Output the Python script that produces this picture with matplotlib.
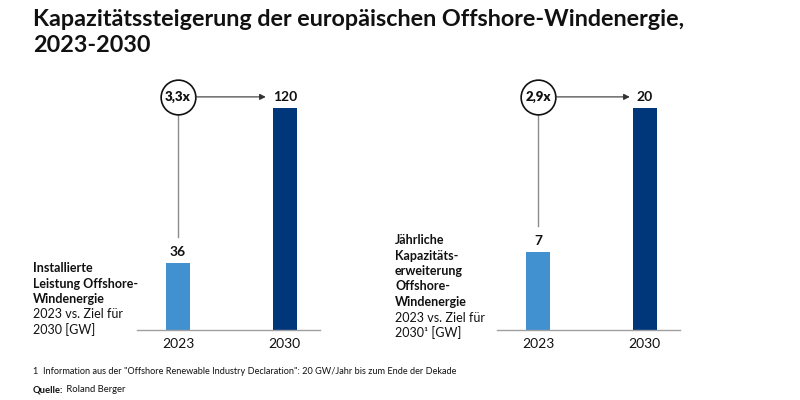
# -*- coding: utf8
'''
Kapazitätssteigerung der europäischen Offshore-Windenergie, 2023-2030:
two small bar panels with growth factor bubbles.
'''
import matplotlib
matplotlib.use('Agg')
from matplotlib import pyplot as plt
from matplotlib import transforms

plt.rcParams['font.family'] = ['Lato', 'DejaVu Sans']

years = ['2023', '2030']
installed_gw = [36, 120]
annual_gw = [7, 20]
factors = ['3,3x', '2,9x']

left_bold = ['Installierte', 'Leistung Offshore-', 'Windenergie']
left_reg = ['2023 vs. Ziel für', '2030 [GW]']
right_bold = ['Jährliche', 'Kapazitäts-', 'erweiterung', 'Offshore-', 'Windenergie']
right_reg = ['2023 vs. Ziel für', '2030¹ [GW]']

LIGHT = '#4191d1'
DARK = '#00367a'
TXT = '#111111'
W, H = 800, 400


def px_axes(fig, x0, x1, ytop, ybot):
    return fig.add_axes([x0 / W, 1 - ybot / H, (x1 - x0) / W, (ybot - ytop) / H])


def panel(ax, values, factor):
    ax.bar([0, 1], values, width=0.225, color=[LIGHT, DARK])
    ax.set_xlim(-0.385, 1.33)
    ax.set_ylim(0, values[1])
    for s in ['top', 'right', 'left']:
        ax.spines[s].set_visible(False)
    ax.spines['bottom'].set_color('#a0a0a0')
    ax.spines['bottom'].set_linewidth(1.0)
    ax.set_yticks([])
    ax.set_xticks([0, 1])
    ax.set_xticklabels(years, fontsize=10, color=TXT)
    ax.tick_params(axis='x', length=0, pad=6)

    tr = transforms.blended_transform_factory(ax.transData, ax.transAxes)
    yc = 1.05
    low_frac = values[0] / values[1]
    # value on small bar
    ax.annotate(str(values[0]), (0, values[0]), xytext=(0, 4),
                textcoords='offset points', ha='center', va='bottom',
                fontsize=10, fontweight='bold', color=TXT)
    # vertical connector
    ax.plot([0, 0], [yc - 0.08, low_frac + 0.117], transform=tr,
            color='#8c8c8c', lw=1.0, clip_on=False)
    # arrow to big bar label
    ax.annotate(str(values[1]), xy=(0.16, yc), xycoords=tr,
                xytext=(1, yc), textcoords=tr, ha='center', va='center',
                fontsize=10, fontweight='bold', color=TXT,
                arrowprops=dict(arrowstyle='<|-,head_length=0.35,head_width=0.18',
                                color='#333333', lw=0.8, shrinkA=3, shrinkB=0))
    # growth bubble
    ax.plot([0], [yc], transform=tr, marker='o', markersize=25,
            markerfacecolor='white', markeredgecolor='#111111',
            markeredgewidth=1.2, clip_on=False)
    ax.text(0, yc, factor, transform=tr, ha='center', va='center',
            fontsize=9.5, fontweight='heavy', color=TXT)


def side_text(fig, x, y0, bold, regular):
    step = 15.5
    y = y0
    for line in bold:
        fig.text(x / W, 1 - y / H, line, ha='left', va='center',
                 fontsize=9, fontweight='bold', color=TXT)
        y += step
    for line in regular:
        fig.text(x / W, 1 - y / H, line, ha='left', va='center',
                 fontsize=9, color=TXT)
        y += step


def main():
    fig = plt.figure(figsize=(8, 4), dpi=100)
    fig.patch.set_facecolor('white')

    fig.text(33 / W, 1 - 19 / H, 'Kapazitätssteigerung der europäischen Offshore-Windenergie,',
             ha='left', va='center', fontsize=16.8, fontweight='bold', color=TXT)
    fig.text(33 / W, 1 - 45 / H, '2023-2030',
             ha='left', va='center', fontsize=16.8, fontweight='bold', color=TXT)

    ax1 = px_axes(fig, 137, 320, 108, 330)
    panel(ax1, installed_gw, factors[0])
    ax2 = px_axes(fig, 497, 680, 108, 330)
    panel(ax2, annual_gw, factors[1])

    side_text(fig, 33, 268, left_bold, left_reg)
    side_text(fig, 395, 240, right_bold, right_reg)

    fig.text(33 / W, 1 - 372 / H,
             '1  Information aus der "Offshore Renewable Industry Declaration": '
             '20 GW/Jahr bis zum Ende der Dekade',
             ha='left', va='center', fontsize=6.6, color=TXT)
    q = fig.text(33 / W, 1 - 390 / H, 'Quelle:', ha='left', va='center',
                 fontsize=6.8, fontweight='bold', color=TXT)
    fig.canvas.draw()
    bb = q.get_window_extent()
    fig.text(bb.x1 / W, 1 - 390 / H, ' Roland Berger', ha='left', va='center',
             fontsize=6.8, color=TXT)

    fig.savefig('out.png', dpi=100, facecolor='white')


if __name__ == '__main__':
    main()
